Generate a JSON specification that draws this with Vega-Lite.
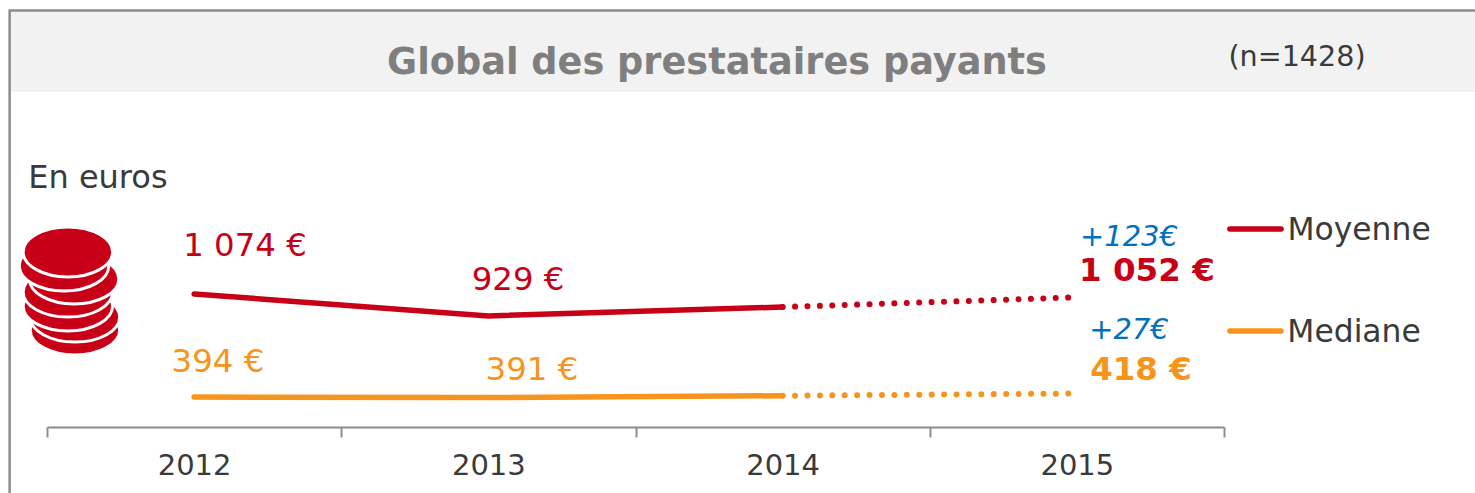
{
"$schema":"https://vega.github.io/schema/vega-lite/v6.json",
"width":1177,"height":415,
"autosize":{"type":"none"},
"padding":{"left":47,"top":12,"right":251,"bottom":66},
"background":"#ffffff",
"config":{"view":{"stroke":null},"font":"DejaVu Sans"},
"datasets":{
"series":[
{"year":2012,"value":1074,"series":"Moyenne"},
{"year":2013,"value":929,"series":"Moyenne"},
{"year":2014,"value":988,"series":"Moyenne"},
{"year":2012,"value":394,"series":"Mediane"},
{"year":2013,"value":391,"series":"Mediane"},
{"year":2014,"value":403,"series":"Mediane"}
],
"projected":[
{"year":2014,"value":988,"series":"Moyenne"},
{"year":2015,"value":1052,"series":"Moyenne"},
{"year":2014,"value":403,"series":"Mediane"},
{"year":2015,"value":418,"series":"Mediane"}
],
"panel":[{"x":2011.373,"x2":2016.404,"y":2943,"y2":-350}],
"header":[{"x":2011.378,"x2":2016.404,"y":2943,"y2":2406}],
"keys":[
{"x":2015.52,"x2":2015.694,"y":1503,"series":"Moyenne"},
{"x":2015.52,"x2":2015.694,"y":830,"series":"Mediane"}
],
"coins":[
{"n":1,"x":2011.595,"y":837},
{"n":2,"x":2011.595,"y":922},
{"n":3,"x":2011.571,"y":995},
{"n":4,"x":2011.571,"y":1087},
{"n":5,"x":2011.592,"y":1173},
{"n":6,"x":2011.558,"y":1259},
{"n":7,"x":2011.571,"y":1351}
],
"values":[
{"x":2012.173,"y":1390,"text":"1 074 €","series":"Moyenne"},
{"x":2013.101,"y":1166,"text":"929 €","series":"Moyenne"},
{"x":2012.081,"y":625,"text":"394 €","series":"Mediane"},
{"x":2013.148,"y":573,"text":"391 €","series":"Mediane"}
],
"bold":[
{"x":2015.238,"y":1225,"text":"1 052 €","series":"Moyenne"},
{"x":2015.218,"y":573,"text":"418 €","series":"Mediane"}
],
"deltas":[
{"x":2015.177,"y":1447,"text":"+123€"},
{"x":2015.177,"y":834,"text":"+27€"}
],
"legendText":[
{"x":2015.959,"y":1489,"text":"Moyenne"},
{"x":2015.942,"y":816,"text":"Mediane"}
]
},
"data":{"name":"series"},
"resolve":{"axis":{"x":"independent"}},
"encoding":{
"x":{"field":"x","type":"quantitative","scale":{"domain":[2011.5,2015.5],"nice":false,"zero":false},"axis":null},
"y":{"field":"y","type":"quantitative","scale":{"domain":[197,2933],"nice":false,"zero":false},"axis":null}
},
"layer":[
{"data":{"name":"header"},"mark":{"type":"rect","fill":"#f2f2f2","clip":false},
 "encoding":{
  "x":{"field":"x","type":"quantitative","title":null,"scale":{"domain":[2011.5,2015.5],"nice":false,"zero":false},
   "axis":{"orient":"bottom","values":[2012,2013,2014,2015],"format":"d","ticks":false,"domain":false,"grid":false,"labelFontSize":29,"labelColor":"#3a3a3a","labelPadding":24,"labelFont":"DejaVu Sans","title":null}},
  "x2":{"field":"x2"},"y2":{"field":"y2"}}},
{"data":{"name":"panel"},"mark":{"type":"rect","fill":null,"stroke":"#8c8c8c","strokeWidth":2.5,"clip":false},
 "encoding":{
  "x":{"field":"x","type":"quantitative","title":null,"scale":{"domain":[2011.5,2015.5],"nice":false,"zero":false},
   "axis":{"orient":"bottom","values":[2011.5,2012.5,2013.5,2014.5,2015.5],"labels":false,"tickSize":10,"tickWidth":2,"tickColor":"#8c8c8c","domainColor":"#8c8c8c","domainWidth":2,"grid":false,"title":null}},
  "x2":{"field":"x2"},"y2":{"field":"y2"}}},
{"mark":{"type":"line","strokeWidth":5.5,"strokeCap":"round"},
 "encoding":{
  "x":{"field":"year","type":"quantitative","axis":null},
  "y":{"field":"value","type":"quantitative","axis":null},
  "color":{"field":"series","type":"nominal","scale":{"domain":["Moyenne","Mediane"],"range":["#c70017","#f7941d"]},"legend":null}}},
{"data":{"name":"projected"},"mark":{"type":"line","strokeWidth":6,"strokeCap":"round","strokeDash":[0.01,12.41]},
 "encoding":{
  "x":{"field":"year","type":"quantitative","axis":null},
  "y":{"field":"value","type":"quantitative","axis":null},
  "color":{"field":"series","type":"nominal","legend":null}}},
{"data":{"name":"keys"},"mark":{"type":"rule","strokeWidth":5.5,"strokeCap":"round","clip":false},
 "encoding":{"x2":{"field":"x2"},"color":{"field":"series","type":"nominal","legend":null}}},
{"data":{"name":"coins"},"mark":{"type":"point","filled":true,"opacity":1,"fill":"#c70017","stroke":"#ffffff","strokeWidth":3,"size":8000,"shape":"M-1,0A1,0.56,0,1,1,1,0A1,0.56,0,1,1,-1,0Z","clip":false},
 "encoding":{"order":{"field":"n","type":"quantitative"}}},
{"data":{"name":"values"},"mark":{"type":"text","fontSize":32.4,"clip":false},
 "encoding":{"text":{"field":"text"},"color":{"field":"series","type":"nominal","legend":null}}},
{"data":{"name":"bold"},"mark":{"type":"text","fontSize":32.5,"fontWeight":"bold","clip":false},
 "encoding":{"text":{"field":"text"},"color":{"field":"series","type":"nominal","legend":null}}},
{"data":{"name":"deltas"},"mark":{"type":"text","fontSize":29,"fontStyle":"italic","fill":"#0070c0","clip":false},
 "encoding":{"text":{"field":"text"}}},
{"data":{"name":"legendText"},"mark":{"type":"text","fontSize":31.4,"fill":"#3a3a3a","clip":false},
 "encoding":{"text":{"field":"text"}}},
{"data":{"values":[{"x":2011.673,"y":1838,"text":"En euros"}]},"mark":{"type":"text","fontSize":32,"fill":"#3a3a3a","clip":false},
 "encoding":{"text":{"field":"text"}}},
{"data":{"values":[{"x":2013.777,"y":2597,"text":"Global des prestataires payants"}]},"mark":{"type":"text","fontSize":36.7,"fontWeight":"bold","fill":"#7f7f7f","clip":false},
 "encoding":{"text":{"field":"text"}}},
{"data":{"values":[{"x":2015.748,"y":2636,"text":"(n=1428)"}]},"mark":{"type":"text","fontSize":28.6,"fill":"#3a3a3a","clip":false},
 "encoding":{"text":{"field":"text"}}}
]
}
